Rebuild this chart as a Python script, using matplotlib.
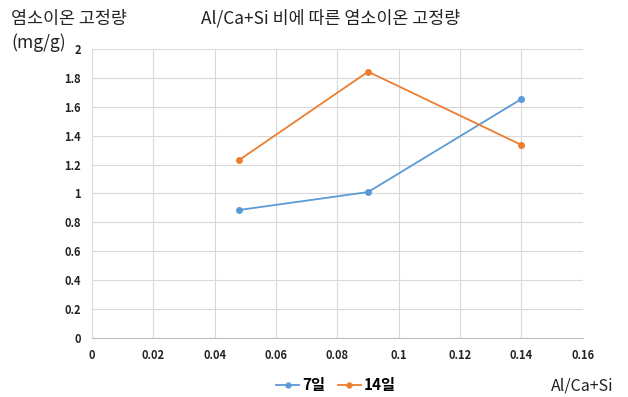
import matplotlib.pyplot as plt
from matplotlib.lines import Line2D

plt.rcParams['font.family'] = ['Noto Sans CJK KR', 'DejaVu Sans']

# data
ratio = [0.048, 0.09, 0.14]
day7 = [0.886, 1.01, 1.654]
day14 = [1.232, 1.843, 1.336]
x_ticks = [0, 0.02, 0.04, 0.06, 0.08, 0.1, 0.12, 0.14, 0.16]
x_labels = ["0", "0.02", "0.04", "0.06", "0.08", "0.1", "0.12", "0.14", "0.16"]
y_ticks = [0, 0.2, 0.4, 0.6, 0.8, 1, 1.2, 1.4, 1.6, 1.8, 2]
y_labels = ["0", "0.2", "0.4", "0.6", "0.8", "1", "1.2", "1.4", "1.6", "1.8", "2"]

blue = "#5B9BD5"
orange = "#ED7D31"

fig = plt.figure(figsize=(6.28, 3.97), dpi=100)
ax = fig.add_axes([0.1465, 0.1486, 0.928 - 0.1465, 0.8766 - 0.1486])

ax.plot(ratio, day7, color=blue, lw=1.3, marker="o", ms=4, label="7일")
ax.plot(ratio, day14, color=orange, lw=1.3, marker="o", ms=4, label="14일")

ax.set_xlim(0, 0.16)
ax.set_ylim(0, 2)
ax.set_xticks(x_ticks)
ax.set_xticklabels(x_labels)
ax.set_yticks(y_ticks)
ax.set_yticklabels(y_labels)
ax.tick_params(length=0, labelsize=8, colors="#222222", pad=8)
for lab in ax.get_xticklabels() + ax.get_yticklabels():
    lab.set_fontweight("bold")
ax.grid(True, color="#D9D9D9", lw=0.8)
ax.set_axisbelow(True)
for s in ["top", "right"]:
    ax.spines[s].set_visible(False)
ax.spines["left"].set_color("#D9D9D9")
ax.spines["bottom"].set_color("#BFBFBF")

fig.text(0.527, 0.953, "Al/Ca+Si 비에 따른 염소이온 고정량", ha="center", va="center",
         fontsize=12.5, color="#222222")
fig.text(0.018, 0.953, "염소이온 고정량", ha="left", va="center", fontsize=12.5, color="#222222")
fig.text(0.018, 0.893, "(mg/g)", ha="left", va="center", fontsize=12.5, color="#222222")
fig.text(0.927, 0.028, "Al/Ca+Si", ha="center", va="center", fontsize=11.5, color="#222222")

handles = [Line2D([0], [0], color=blue, lw=1.3, marker="o", ms=3.5),
           Line2D([0], [0], color=orange, lw=1.3, marker="o", ms=3.5)]
leg = fig.legend(handles, ["7일", "14일"], loc="center", bbox_to_anchor=(0.535, 0.03),
                 ncol=2, frameon=False, handlelength=1.5, handletextpad=0.2,
                 columnspacing=0.8, prop={"size": 11, "weight": "bold"})

fig.savefig("out.png", dpi=100)
